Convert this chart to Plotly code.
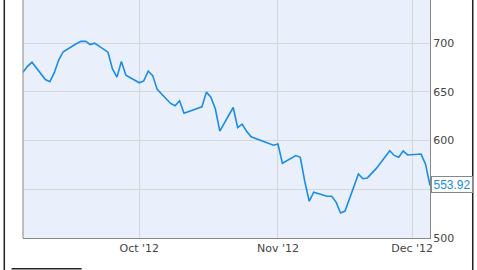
import plotly.graph_objects as go

dates = [
    "2012-09-05", "2012-09-06", "2012-09-07", "2012-09-10", "2012-09-11", "2012-09-12",
    "2012-09-13", "2012-09-14", "2012-09-17", "2012-09-18", "2012-09-19", "2012-09-20",
    "2012-09-21", "2012-09-24", "2012-09-25", "2012-09-26", "2012-09-27", "2012-09-28",
    "2012-10-01", "2012-10-02", "2012-10-03", "2012-10-04", "2012-10-05", "2012-10-08",
    "2012-10-09", "2012-10-10", "2012-10-11", "2012-10-12", "2012-10-15", "2012-10-16",
    "2012-10-17", "2012-10-18", "2012-10-19", "2012-10-22", "2012-10-23", "2012-10-24",
    "2012-10-25", "2012-10-26", "2012-10-31", "2012-11-01", "2012-11-02", "2012-11-05",
    "2012-11-06", "2012-11-07", "2012-11-08", "2012-11-09", "2012-11-12", "2012-11-13",
    "2012-11-14", "2012-11-15", "2012-11-16", "2012-11-19", "2012-11-20", "2012-11-21",
    "2012-11-23", "2012-11-26", "2012-11-27", "2012-11-28", "2012-11-29", "2012-11-30",
    "2012-12-03", "2012-12-04", "2012-12-05",
]
prices = [
    670.23, 676.27, 680.44, 662.74, 660.59, 669.79,
    682.98, 691.28, 699.78, 701.91, 702.10, 698.70,
    700.09, 690.79, 673.54, 665.18, 681.32, 667.10,
    659.39, 661.31, 671.45, 666.80, 652.59, 638.17,
    635.85, 640.91, 628.10, 629.71, 634.76, 649.79,
    644.61, 632.64, 609.84, 634.03, 613.36, 616.83,
    609.54, 604.00, 595.32, 596.54, 576.80, 584.62,
    582.85, 558.00, 537.75, 547.06, 542.83, 542.90,
    536.88, 525.62, 527.68, 565.73, 560.91, 561.70,
    571.50, 589.53, 584.78, 582.94, 589.36, 585.28,
    586.19, 575.85, 553.92,
]
x_tick_vals = ["2012-10-01", "2012-11-01", "2012-12-01"]
x_tick_text = ["Oct '12", "Nov '12", "Dec '12"]
y_tick_vals = [500, 550, 600, 650, 700]
y_tick_text = ["500", "", "600", "650", "700"]
last_label = "553.92"

LINE = "#1a8ce6"
font = dict(family="DejaVu Sans", size=11, color="#444444")

fig = go.Figure()
fig.add_trace(go.Scatter(
    x=dates, y=prices, mode="lines",
    line=dict(color=LINE, width=1.6),
    hoverinfo="skip", showlegend=False,
))

fig.add_annotation(
    x=1, xref="paper", y=prices[-1], yref="y",
    xanchor="left", yanchor="middle", xshift=1, yshift=1,
    text=last_label, showarrow=False,
    font=dict(family="Liberation Sans", size=12, color=LINE),
    width=38, height=13, align="center",
    bgcolor="white", bordercolor="#888888", borderwidth=1, borderpad=1,
)

# frame decorations
fig.add_shape(type="line", xref="paper", yref="paper",
              x0=-0.046, x1=-0.046, y0=1.0, y1=-0.14,
              line=dict(color="#222222", width=1.5))
fig.add_shape(type="line", xref="paper", yref="paper",
              x0=1.105, x1=1.105, y0=1.0, y1=-0.14,
              line=dict(color="#222222", width=1.5))
fig.add_shape(type="line", xref="paper", yref="paper",
              x0=-0.028, x1=0.144, y0=-0.129, y1=-0.129,
              line=dict(color="#222222", width=1.5))
fig.add_shape(type="line", xref="paper", yref="paper",
              x0=0, x1=0, y0=0, y1=1,
              line=dict(color="#888888", width=1))

fig.update_layout(
    width=477, height=270,
    margin=dict(l=23, r=47, t=0, b=32),
    paper_bgcolor="white", plot_bgcolor="#e9f0fc",
    font=font,
    xaxis=dict(
        type="date", range=["2012-09-05", "2012-12-05"],
        tickvals=x_tick_vals, ticktext=x_tick_text,
        showgrid=True, gridcolor="#d6d6d6", gridwidth=1,
        showline=True, linecolor="#888888", linewidth=1,
        ticks="", zeroline=False, tickfont=font,
    ),
    yaxis=dict(
        range=[500, 744.4], side="right",
        tickvals=y_tick_vals, ticktext=y_tick_text,
        showgrid=True, gridcolor="#d6d6d6", gridwidth=1,
        showline=True, linecolor="#888888", linewidth=1,
        ticks="", zeroline=False, tickfont=font,
    ),
)

fig.write_html("out.html")
